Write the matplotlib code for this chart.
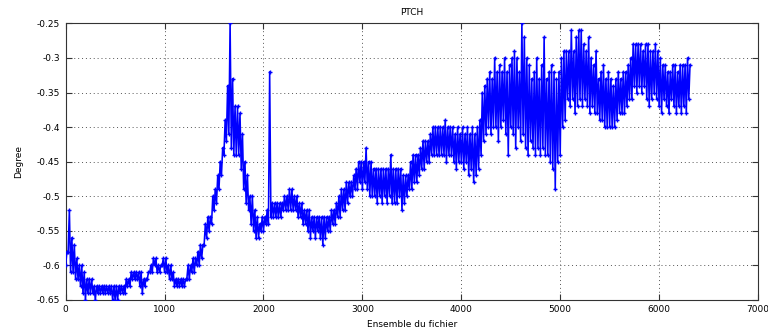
import matplotlib

matplotlib.use("Agg")

import matplotlib.pyplot as plt
import numpy as np

# pitch is stored as low / high value for each block of 25 ensembles
STEP = 25

LO_0000 = [
    -0.60, -0.58, -0.61, -0.61, -0.62, -0.62, -0.63, -0.64, -0.65, -0.64,
    -0.64, -0.64, -0.65, -0.64, -0.64, -0.64, -0.64, -0.64, -0.64, -0.65,
    -0.65, -0.65, -0.64, -0.64, -0.64, -0.63, -0.63, -0.62, -0.62, -0.62,
    -0.63, -0.64, -0.63, -0.62, -0.61, -0.61, -0.60, -0.61, -0.61, -0.60,
]
HI_0000 = [
    -0.58, -0.52, -0.56, -0.57, -0.59, -0.60, -0.60, -0.61, -0.62, -0.62,
    -0.62, -0.63, -0.63, -0.63, -0.63, -0.63, -0.63, -0.63, -0.63, -0.63,
    -0.63, -0.63, -0.63, -0.63, -0.62, -0.62, -0.61, -0.61, -0.61, -0.61,
    -0.61, -0.62, -0.62, -0.61, -0.60, -0.59, -0.59, -0.60, -0.60, -0.59,
]
LO_1000 = [
    -0.61, -0.61, -0.62, -0.62, -0.63, -0.63, -0.63, -0.63, -0.63, -0.62,
    -0.62, -0.61, -0.61, -0.60, -0.60, -0.59, -0.57, -0.56, -0.55, -0.54,
    -0.52, -0.51, -0.49, -0.47, -0.44, -0.42, -0.41, -0.43, -0.44, -0.44,
    -0.44, -0.46, -0.49, -0.51, -0.52, -0.54, -0.55, -0.56, -0.56, -0.55,
]
HI_1000 = [
    -0.59, -0.60, -0.60, -0.61, -0.62, -0.62, -0.62, -0.62, -0.62, -0.60,
    -0.60, -0.59, -0.59, -0.58, -0.57, -0.57, -0.54, -0.53, -0.53, -0.50,
    -0.49, -0.47, -0.45, -0.43, -0.39, -0.34, -0.25, -0.33, -0.37, -0.37,
    -0.38, -0.41, -0.45, -0.47, -0.50, -0.50, -0.52, -0.53, -0.54, -0.53,
]
LO_2000 = [
    -0.55, -0.54, -0.54, -0.53, -0.53, -0.53, -0.53, -0.53, -0.52, -0.52,
    -0.52, -0.52, -0.52, -0.52, -0.53, -0.53, -0.54, -0.54, -0.55, -0.56,
    -0.55, -0.56, -0.55, -0.56, -0.57, -0.56, -0.55, -0.55, -0.54, -0.54,
    -0.53, -0.53, -0.52, -0.52, -0.51, -0.50, -0.50, -0.49, -0.49, -0.48,
]
HI_2000 = [
    -0.53, -0.52, -0.32, -0.51, -0.51, -0.51, -0.51, -0.51, -0.50, -0.50,
    -0.49, -0.49, -0.50, -0.50, -0.51, -0.51, -0.52, -0.52, -0.52, -0.53,
    -0.53, -0.53, -0.53, -0.53, -0.53, -0.53, -0.53, -0.52, -0.52, -0.51,
    -0.50, -0.49, -0.49, -0.48, -0.48, -0.48, -0.47, -0.46, -0.45, -0.45,
]
LO_3000 = [
    -0.49, -0.48, -0.49, -0.50, -0.50, -0.50, -0.51, -0.50, -0.51, -0.50,
    -0.51, -0.50, -0.51, -0.51, -0.51, -0.50, -0.52, -0.51, -0.50, -0.49,
    -0.49, -0.48, -0.48, -0.47, -0.46, -0.46, -0.45, -0.45, -0.44, -0.44,
    -0.44, -0.44, -0.44, -0.44, -0.45, -0.44, -0.44, -0.45, -0.46, -0.45,
]
HI_3000 = [
    -0.45, -0.43, -0.45, -0.45, -0.46, -0.46, -0.46, -0.46, -0.46, -0.46,
    -0.46, -0.44, -0.46, -0.46, -0.46, -0.46, -0.47, -0.47, -0.47, -0.45,
    -0.44, -0.44, -0.44, -0.43, -0.42, -0.42, -0.42, -0.41, -0.40, -0.40,
    -0.40, -0.40, -0.40, -0.39, -0.40, -0.40, -0.40, -0.41, -0.40, -0.41,
]
LO_4000 = [
    -0.45, -0.46, -0.45, -0.47, -0.46, -0.48, -0.47, -0.46, -0.44, -0.42,
    -0.41, -0.40, -0.41, -0.40, -0.40, -0.42, -0.40, -0.39, -0.41, -0.44,
    -0.40, -0.41, -0.43, -0.40, -0.42, -0.41, -0.43, -0.44, -0.42, -0.43,
    -0.44, -0.43, -0.44, -0.43, -0.44, -0.44, -0.45, -0.46, -0.49, -0.45,
]
HI_4000 = [
    -0.40, -0.41, -0.40, -0.41, -0.40, -0.41, -0.40, -0.39, -0.35, -0.34,
    -0.33, -0.32, -0.33, -0.30, -0.32, -0.31, -0.32, -0.30, -0.32, -0.31,
    -0.30, -0.29, -0.30, -0.32, -0.25, -0.27, -0.30, -0.31, -0.33, -0.32,
    -0.30, -0.33, -0.31, -0.27, -0.33, -0.32, -0.31, -0.32, -0.33, -0.32,
]
LO_5000 = [
    -0.44, -0.40, -0.39, -0.36, -0.37, -0.36, -0.38, -0.37, -0.36, -0.37,
    -0.36, -0.37, -0.38, -0.37, -0.38, -0.38, -0.39, -0.39, -0.40, -0.40,
    -0.40, -0.40, -0.40, -0.39, -0.38, -0.38, -0.38, -0.37, -0.36, -0.36,
    -0.34, -0.35, -0.34, -0.35, -0.34, -0.36, -0.37, -0.36, -0.35, -0.36,
]
HI_5000 = [
    -0.30, -0.29, -0.29, -0.29, -0.26, -0.29, -0.27, -0.26, -0.26, -0.28,
    -0.29, -0.27, -0.30, -0.31, -0.29, -0.33, -0.32, -0.31, -0.33, -0.32,
    -0.33, -0.34, -0.33, -0.32, -0.33, -0.32, -0.32, -0.31, -0.30, -0.28,
    -0.28, -0.28, -0.28, -0.29, -0.28, -0.28, -0.29, -0.29, -0.28, -0.29,
]
LO_6000 = [
    -0.37, -0.38, -0.36, -0.37, -0.38, -0.36, -0.37, -0.38, -0.37, -0.38,
    -0.37, -0.38, -0.36,
]
HI_6000 = [
    -0.30, -0.31, -0.31, -0.32, -0.32, -0.31, -0.31, -0.32, -0.31, -0.31,
    -0.31, -0.30, -0.31,
]

X_TICKS = [0, 1000, 2000, 3000, 4000, 5000, 6000, 7000]
Y_TICKS = [-0.65, -0.6, -0.55, -0.5, -0.45, -0.4, -0.35, -0.3, -0.25]

plt.rcParams.update({
    "font.family": "DejaVu Sans",
    "font.size": 6.5,
    "axes.linewidth": 0.8,
    "xtick.direction": "in",
    "ytick.direction": "in",
    "xtick.top": True,
    "ytick.right": True,
})

lo = np.array(LO_0000 + LO_1000 + LO_2000 + LO_3000 + LO_4000 + LO_5000 + LO_6000)
hi = np.array(HI_0000 + HI_1000 + HI_2000 + HI_3000 + HI_4000 + HI_5000 + HI_6000)

# min/max trace: low then high value inside each block
ptch = np.column_stack([lo, hi]).ravel()
ens = np.column_stack([np.arange(len(lo)) * STEP,
                       np.arange(len(lo)) * STEP + STEP / 2]).ravel()

fig = plt.figure(figsize=(7.68, 3.34), dpi=100)
ax = fig.add_axes([0.0855, 0.102, 0.9015, 0.828])

ax.plot(ens, ptch, color="#0000ff", lw=1.15, marker="+", ms=3.2, mew=1.0,
        zorder=3)

ax.set_xlim(0, 7000)
ax.set_ylim(-0.65, -0.25)
ax.set_xticks(X_TICKS)
ax.set_xticklabels([str(t) for t in X_TICKS])
ax.set_yticks(Y_TICKS)
ax.set_yticklabels(["%g" % t for t in Y_TICKS])
ax.tick_params(length=4, width=0.8, color="#333333", pad=4)
ax.grid(True, color="#555555", lw=0.7, linestyle=(0, (1, 3)))
for s in ax.spines.values():
    s.set_color("#333333")

ax.set_title("PTCH", fontsize=6.5, pad=6)
ax.set_xlabel("Ensemble du fichier", fontsize=6.5, labelpad=4)
ax.set_ylabel("Degree", fontsize=6.5, labelpad=10)

fig.savefig("out.png", dpi=100)
